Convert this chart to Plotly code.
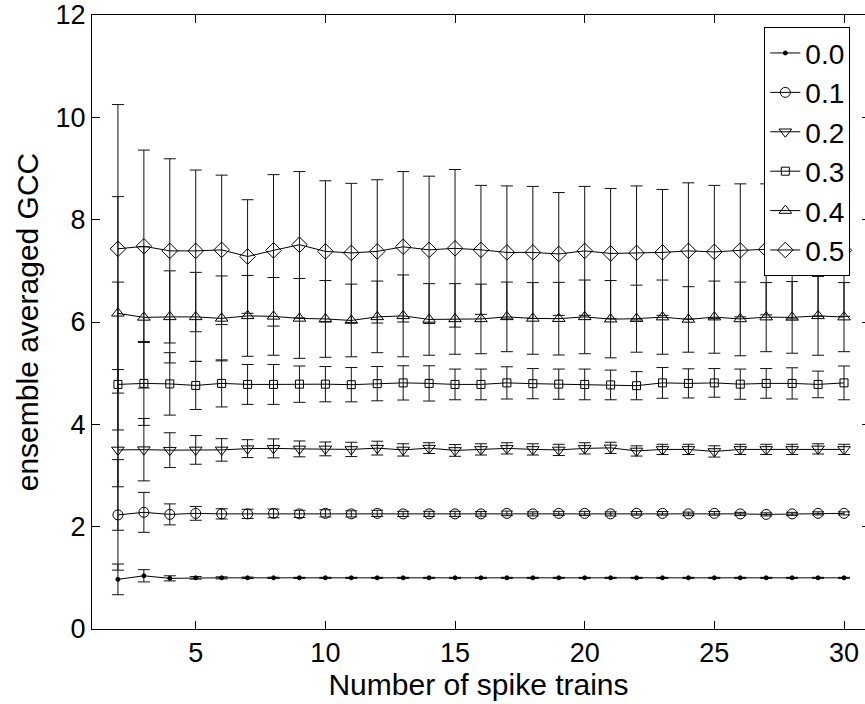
import plotly.graph_objects as go

# Number of spike trains on the x axis
n_trains = list(range(2, 31))

# Ensemble averaged GCC per coupling level, with standard deviations
gcc_00 = [0.97, 1.04, 0.99, 1.00, 1.00, 1.00, 1.00, 1.00, 1.00, 1.00,
          1.00, 1.00, 1.00, 1.00, 1.00, 1.00, 1.00, 1.00, 1.00, 1.00,
          1.00, 1.00, 1.00, 1.00, 1.00, 1.00, 1.00, 1.00, 1.00]
err_00 = [0.30, 0.12, 0.05, 0.025, 0.02, 0.015, 0.012, 0.01, 0.01, 0.01,
          0.01, 0.01, 0.01, 0.01, 0.01, 0.01, 0.01, 0.01, 0.01, 0.01,
          0.01, 0.01, 0.01, 0.01, 0.01, 0.01, 0.01, 0.01, 0.01]

gcc_01 = [2.23, 2.28, 2.24, 2.26, 2.25, 2.25, 2.26, 2.25, 2.26, 2.25,
          2.26, 2.25, 2.25, 2.25, 2.25, 2.26, 2.25, 2.26, 2.26, 2.25,
          2.26, 2.26, 2.25, 2.26, 2.25, 2.24, 2.25, 2.26, 2.26]
err_01 = [1.08, 0.39, 0.205, 0.135, 0.10, 0.09, 0.085, 0.07, 0.07, 0.06,
          0.06, 0.05, 0.05, 0.05, 0.045, 0.045, 0.04, 0.04, 0.04, 0.04,
          0.035, 0.035, 0.035, 0.035, 0.03, 0.03, 0.03, 0.03, 0.03]

gcc_02 = [3.50, 3.505, 3.495, 3.50, 3.50, 3.525, 3.53, 3.52, 3.52, 3.51,
          3.535, 3.50, 3.535, 3.49, 3.51, 3.53, 3.51, 3.50, 3.53, 3.54,
          3.48, 3.51, 3.51, 3.47, 3.51, 3.51, 3.51, 3.52, 3.51]
err_02 = [1.57, 0.61, 0.34, 0.28, 0.22, 0.175, 0.185, 0.155, 0.135, 0.14,
          0.135, 0.12, 0.105, 0.115, 0.11, 0.11, 0.11, 0.11, 0.11, 0.11,
          0.10, 0.10, 0.10, 0.11, 0.10, 0.10, 0.10, 0.10, 0.10]

gcc_03 = [4.78, 4.80, 4.79, 4.76, 4.80, 4.78, 4.78, 4.785, 4.785, 4.775,
          4.795, 4.81, 4.80, 4.78, 4.78, 4.81, 4.795, 4.785, 4.78, 4.77,
          4.755, 4.81, 4.80, 4.81, 4.785, 4.80, 4.80, 4.78, 4.81]
err_03 = [2.00, 0.82, 0.61, 0.47, 0.46, 0.39, 0.39, 0.355, 0.345, 0.335,
          0.335, 0.335, 0.345, 0.30, 0.30, 0.315, 0.295, 0.295, 0.30, 0.29,
          0.275, 0.30, 0.285, 0.28, 0.295, 0.29, 0.305, 0.26, 0.33]

gcc_04 = [6.17, 6.09, 6.10, 6.10, 6.07, 6.12, 6.11, 6.07, 6.06, 6.03,
          6.10, 6.12, 6.05, 6.06, 6.06, 6.10, 6.07, 6.065, 6.10, 6.055,
          6.065, 6.095, 6.05, 6.095, 6.06, 6.095, 6.09, 6.12, 6.095]
err_04 = [2.28, 1.38, 0.90, 0.87, 0.83, 0.79, 0.76, 0.78, 0.75, 0.71,
          0.70, 0.80, 0.70, 0.69, 0.68, 0.68, 0.70, 0.71, 0.72, 0.755,
          0.655, 0.725, 0.64, 0.705, 0.72, 0.675, 0.70, 0.77, 0.675]

gcc_05 = [7.43, 7.48, 7.39, 7.39, 7.41, 7.28, 7.40, 7.51, 7.38, 7.35,
          7.38, 7.47, 7.41, 7.44, 7.41, 7.36, 7.36, 7.33, 7.39, 7.34,
          7.35, 7.36, 7.39, 7.37, 7.40, 7.42, 7.38, 7.41, 7.40]
err_05 = [2.82, 1.88, 1.80, 1.58, 1.46, 1.11, 1.48, 1.43, 1.38, 1.36,
          1.40, 1.47, 1.44, 1.54, 1.26, 1.30, 1.29, 1.20, 1.26, 1.27,
          1.31, 1.23, 1.33, 1.30, 1.30, 1.28, 1.32, 1.30, 1.29]

series_names = ["0.0", "0.1", "0.2", "0.3", "0.4", "0.5"]
series_means = [gcc_00, gcc_01, gcc_02, gcc_03, gcc_04, gcc_05]
series_errs = [err_00, err_01, err_02, err_03, err_04, err_05]

# MATLAB-like marker styles: '.', 'o', 'v', 's', '^', 'd'
marker_styles = [
    dict(symbol="circle", size=4),
    dict(symbol="circle-open", size=10),
    dict(symbol="triangle-down-open", size=11),
    dict(symbol="square-open", size=8),
    dict(symbol="triangle-up-open", size=11),
    dict(symbol="diamond-open", size=12),
]

FONT = "Liberation Sans, Arial, Helvetica, sans-serif"

fig = go.Figure()
for name, ys, es, mk in zip(series_names, series_means, series_errs, marker_styles):
    fig.add_trace(go.Scatter(
        x=n_trains, y=ys, name=name, mode="lines+markers",
        line=dict(color="black", width=1),
        marker=dict(color="black", line=dict(color="black", width=1), **mk),
        error_y=dict(type="data", array=es, visible=True,
                     color="#111111", thickness=1, width=6),
    ))

# invisible helper trace so the right-hand tick axis is rendered
fig.add_trace(go.Scatter(x=[n_trains[0]], y=[0], yaxis="y2", mode="markers",
                         marker=dict(opacity=0), showlegend=False, hoverinfo="skip"))

fig.update_layout(
    width=865, height=704,
    margin=dict(l=92, r=0, t=15, b=75),
    paper_bgcolor="white", plot_bgcolor="white",
    font=dict(family=FONT, color="black", size=27),
    showlegend=True,
    legend=dict(
        x=0.981, xanchor="right", y=0.98, yanchor="top",
        bgcolor="white", bordercolor="black", borderwidth=1,
        font=dict(size=28, family=FONT, color="black"),
        tracegroupgap=0, itemwidth=30,
    ),
    xaxis=dict(
        range=[1, 30.81], tickvals=[5, 10, 15, 20, 25, 30],
        ticks="inside", ticklen=8, tickcolor="black", tickwidth=1,
        showline=True, linecolor="black", linewidth=1, mirror="ticks",
        showgrid=False, zeroline=False,
        tickfont=dict(size=27, family=FONT),
        title=dict(text="Number of spike trains", font=dict(size=30, family=FONT), standoff=0),
    ),
    yaxis=dict(
        range=[0, 12], tickvals=[0, 2, 4, 6, 8, 10, 12],
        ticks="inside", ticklen=8, tickcolor="black", tickwidth=1,
        showline=True, linecolor="black", linewidth=1, mirror=False,
        showgrid=False, zeroline=False,
        tickfont=dict(size=27, family=FONT),
        title=dict(text="ensemble averaged GCC", font=dict(size=30, family=FONT), standoff=8),
    ),
    yaxis2=dict(
        overlaying="y", side="right", range=[0, 12],
        tickvals=[0, 2, 4, 6, 8, 10, 12],
        ticks="inside", ticklen=3, tickcolor="black", tickwidth=1,
        showticklabels=False, showline=False, showgrid=False, zeroline=False,
    ),
)

fig.write_html("out.html")
